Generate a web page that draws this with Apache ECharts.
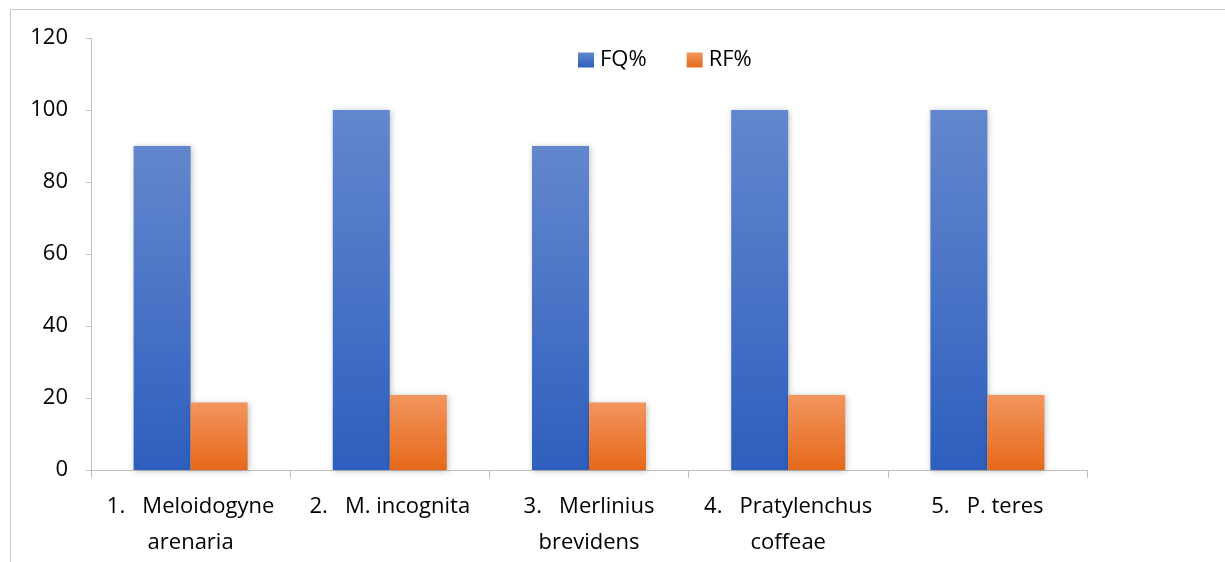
<!DOCTYPE html>
<html><head><meta charset="utf-8">
<script src="https://cdn.jsdelivr.net/npm/echarts@6/dist/echarts.min.js"></script>
<style>html,body{margin:0;padding:0;background:#fff}#c{width:1225px;height:562px}</style>
</head><body><div id="c"></div>
<script>
const categories = ["1.   Meloidogyne\narenaria", "2.   M. incognita", "3.   Merlinius\nbrevidens", "4.   Pratylenchus\ncoffeae", "5.   P. teres"];
const fq = [90, 100, 90, 100, 100];
const rf = [18.75, 20.83, 18.75, 20.83, 20.83];
const yTicks = [0, 20, 40, 60, 80, 100, 120];

const font = "'Open Sans', 'Noto Sans', sans-serif";
const chart = echarts.init(document.getElementById('c'));
function grad(top, bottom) {
  return new echarts.graphic.LinearGradient(0, 0, 0, 1, [{offset: 0, color: top}, {offset: 1, color: bottom}]);
}
chart.setOption({
  animation: false,
  graphic: [{type: 'rect', shape: {x: 10.5, y: 9.5, width: 1230, height: 600}, style: {fill: 'none', stroke: '#c8c8c8', lineWidth: 1}}],
  legend: {
    top: 44, left: 573, itemWidth: 16, itemHeight: 15, itemGap: 40, icon: 'rect',
    textStyle: {fontFamily: font, fontSize: 22, color: '#000', padding: [0, 0, 0, 1]},
    data: ['FQ%', 'RF%']
  },
  grid: {left: 91, right: 138, top: 38, bottom: 92, containLabel: false},
  xAxis: {
    type: 'category', data: categories,
    axisLine: {lineStyle: {color: '#bfbfbf'}},
    axisTick: {show: true, length: 8, lineStyle: {color: '#bfbfbf'}},
    axisLabel: {fontFamily: font, fontSize: 22, color: '#000', margin: 19, lineHeight: 36, interval: 0}
  },
  yAxis: {
    type: 'value', min: 0, max: 120, interval: 20,
    axisLine: {show: true, lineStyle: {color: '#bfbfbf'}},
    axisTick: {show: true, length: 5, lineStyle: {color: '#bfbfbf'}},
    splitLine: {show: false},
    axisLabel: {fontFamily: font, fontSize: 22, color: '#000', margin: 23,
      formatter: v => yTicks.includes(v) ? String(v) : ''}
  },
  series: [
    {name: 'FQ%', type: 'bar', data: fq, barWidth: 57, barGap: '0%',
     itemStyle: {color: grad('#6387cd', '#2e5fbe'), shadowColor: 'rgba(0,0,0,0.25)', shadowBlur: 6, shadowOffsetX: 1, shadowOffsetY: 1}},
    {name: 'RF%', type: 'bar', data: rf, barWidth: 57,
     itemStyle: {color: grad('#f2955e', '#e6691a'), shadowColor: 'rgba(0,0,0,0.25)', shadowBlur: 6, shadowOffsetX: 1, shadowOffsetY: 1}}
  ]
});
</script></body></html>
